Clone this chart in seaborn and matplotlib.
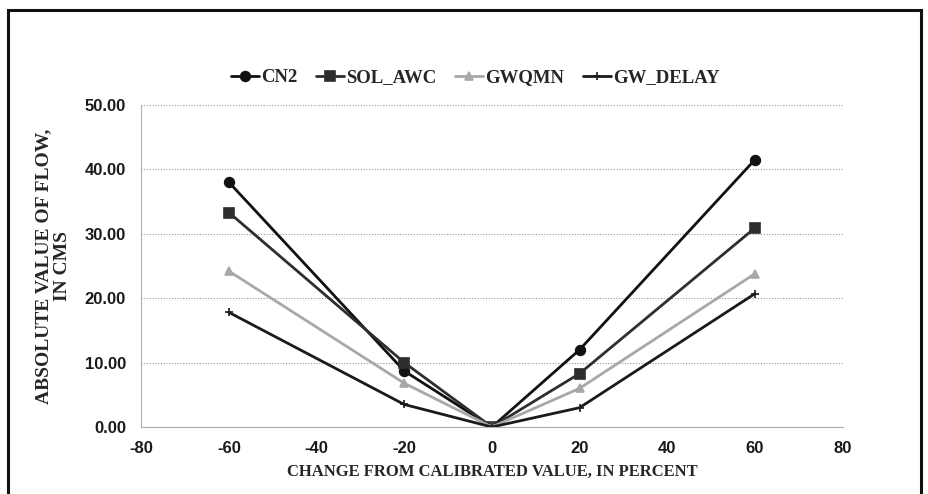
import matplotlib
matplotlib.use("Agg")
import matplotlib.pyplot as plt
import matplotlib.patches as patches
import seaborn as sns

# data
change_pct = [-60, -20, 0, 20, 60]
cn2 = [38.0, 8.7, 0.0, 12.0, 41.5]
sol_awc = [33.3, 10.0, 0.0, 8.3, 30.9]
gwqmn = [24.2, 6.8, 0.0, 6.0, 23.8]
gw_delay = [17.8, 3.5, 0.0, 3.0, 20.7]

names = ["CN2", "SOL_AWC", "GWQMN", "GW_DELAY"]
values = [cn2, sol_awc, gwqmn, gw_delay]
colors = ["#111111", "#2e2e2e", "#a8a8a8", "#1a1a1a"]
marks = ["o", "s", "^", "+"]
msizes = [7, 7, 6, 6]

sns.set_style("white")
plt.rcParams["axes.unicode_minus"] = False
serif = ["Liberation Serif", "DejaVu Serif"]
narrow = ["Liberation Sans Narrow", "Liberation Sans", "DejaVu Sans"]

fig = plt.figure(figsize=(9.29, 4.94), dpi=100)
ax = fig.add_axes([0.152, 0.1356, 0.755, 0.652])

for name, vals, c, m, ms in zip(names, values, colors, marks, msizes):
    sns.lineplot(x=change_pct, y=vals, color=c, marker=m, markersize=ms,
                 markeredgecolor=c, markeredgewidth=1.2, linewidth=2.0,
                 label=name, ax=ax)

ax.set_xlim(-80, 80)
ax.set_ylim(0, 50)
ax.set_xticks(range(-80, 81, 20))
ax.set_yticks(range(0, 51, 10))
ax.set_yticklabels([f"{v:.2f}" for v in range(0, 51, 10)])
ax.yaxis.grid(True, linestyle=(0, (1, 1.5)), color="#9a9a9a", linewidth=0.8)
ax.xaxis.grid(False)
for side in ["top", "right"]:
    ax.spines[side].set_visible(False)
ax.spines["left"].set_color("#b0b0b0")
ax.spines["bottom"].set_color("#b0b0b0")
ax.tick_params(axis="x", length=3, color="#b0b0b0", direction="in", pad=10)
ax.tick_params(axis="y", length=3, color="#b0b0b0", direction="out", pad=8)

for lab in ax.get_xticklabels() + ax.get_yticklabels():
    lab.set_family(narrow)
    lab.set_fontweight("bold")
    lab.set_fontsize(12)
    lab.set_color("#1a1a1a")

ax.set_xlabel("CHANGE FROM CALIBRATED VALUE, IN PERCENT", family=serif,
              fontweight="bold", fontsize=12, labelpad=6)
ax.set_ylabel("ABSOLUTE VALUE OF FLOW,\nIN CMS", family=serif,
              fontweight="bold", fontsize=14, labelpad=10, linespacing=1.15)

handles, labels = ax.get_legend_handles_labels()
leg = ax.legend(handles, labels, loc="center", bbox_to_anchor=(0.476, 1.085),
                ncol=4, frameon=False, handlelength=1.5, handletextpad=0.1,
                columnspacing=1.0, prop={"family": serif, "weight": "bold", "size": 13.5})

# outer frame around the figure
fig.patches.append(patches.Rectangle((0.009, -0.05), 0.982, 1.03, transform=fig.transFigure,
                                     fill=False, edgecolor="#111111", linewidth=2.2))

fig.savefig("out.png", dpi=100)
